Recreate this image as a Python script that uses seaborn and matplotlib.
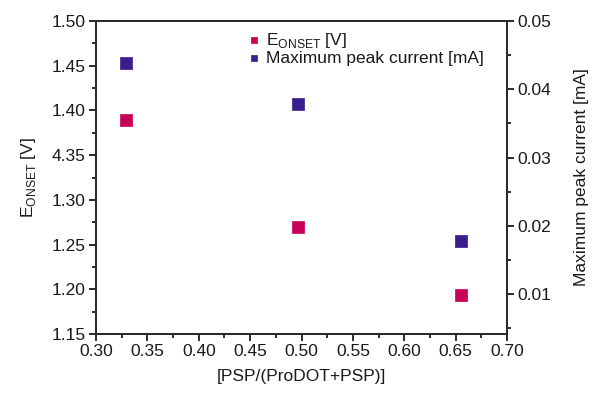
import matplotlib
matplotlib.use("Agg")
import matplotlib.pyplot as plt
import seaborn as sns
import pandas as pd
from matplotlib.ticker import MultipleLocator, FixedLocator, FixedFormatter

sns.set_theme(style="ticks")
plt.rcParams['font.family'] = ['Liberation Sans', 'DejaVu Sans']

ratio = [0.329, 0.4966, 0.655]
e_onset = [1.389, 1.2696, 1.1936]
peak_current = [0.0438, 0.0378, 0.0178]
left_ticks = [1.15, 1.20, 1.25, 1.30, 1.35, 1.40, 1.45, 1.50]
left_labels = ["1.15", "1.20", "1.25", "1.30", "4.35", "1.40", "1.45", "1.50"]
x_ticks = [0.30, 0.35, 0.40, 0.45, 0.50, 0.55, 0.60, 0.65, 0.70]

c_e = "#C8005A"
c_i = "#3A1E8C"
ink = "#1a1a1a"

df = pd.DataFrame({"ratio": ratio, "e": e_onset, "i": peak_current})

fig = plt.figure(figsize=(5.94, 3.94), dpi=100)
ax = fig.add_axes([96/594, 1-334/394, (507-96)/594, (334-21)/394])
ax2 = ax.twinx()

sns.scatterplot(data=df, x="ratio", y="e", ax=ax, marker="s", s=75, color=c_e,
                edgecolor=c_e, linewidth=0.5, label=r"E$_{\mathregular{ONSET}}$ [V]", legend=False)
sns.scatterplot(data=df, x="ratio", y="i", ax=ax2, marker="s", s=75, color=c_i,
                edgecolor=c_i, linewidth=0.5, label="Maximum peak current [mA]", legend=False)

ax.set_xlim(0.30, 0.70)
ax.set_ylim(1.15, 1.50)
ax2.set_ylim(0.00414, 0.05)

ax.xaxis.set_major_locator(FixedLocator(x_ticks))
ax.xaxis.set_major_formatter(FixedFormatter([f"{v:.2f}" for v in x_ticks]))
ax.xaxis.set_minor_locator(MultipleLocator(0.025))
ax.yaxis.set_major_locator(FixedLocator(left_ticks))
ax.yaxis.set_major_formatter(FixedFormatter(left_labels))
ax.yaxis.set_minor_locator(MultipleLocator(0.025))
ax2.yaxis.set_major_locator(FixedLocator([0.01, 0.02, 0.03, 0.04, 0.05]))
ax2.yaxis.set_major_formatter(FixedFormatter(["0.01", "0.02", "0.03", "0.04", "0.05"]))
ax2.yaxis.set_minor_locator(FixedLocator([0.005, 0.015, 0.025, 0.035, 0.045]))

for a in (ax, ax2):
    a.tick_params(which="major", direction="out", length=5, width=1.3, labelsize=12.5,
                  colors=ink, pad=2.5)
    a.tick_params(which="minor", direction="out", length=3, width=1.3, colors=ink)
    for sp in a.spines.values():
        sp.set_linewidth(1.3)
        sp.set_color("#2a2a2a")
ax.tick_params(axis="y", which="both", right=False)
ax.tick_params(axis="x", which="both", top=False)

ax.set_xlabel("[PSP/(ProDOT+PSP)]", fontsize=12.5, color=ink, labelpad=7)
ax.set_ylabel(r"E$_{\mathregular{ONSET}}$ [V]", fontsize=12.5, color=ink, labelpad=10)
ax2.set_ylabel("Maximum peak current [mA]", fontsize=12.5, color=ink, labelpad=16)

h1, l1 = ax.get_legend_handles_labels()
h2, l2 = ax2.get_legend_handles_labels()
leg = ax2.legend(h1 + h2, l1 + l2, loc="upper left", bbox_to_anchor=(0.34, 1.0),
                 frameon=False, fontsize=12.5, handletextpad=0.2, labelspacing=0.05,
                 borderaxespad=0.15, markerscale=0.55, handlelength=1.0)
for t in leg.get_texts():
    t.set_color(ink)

fig.savefig("out.png", dpi=100)
